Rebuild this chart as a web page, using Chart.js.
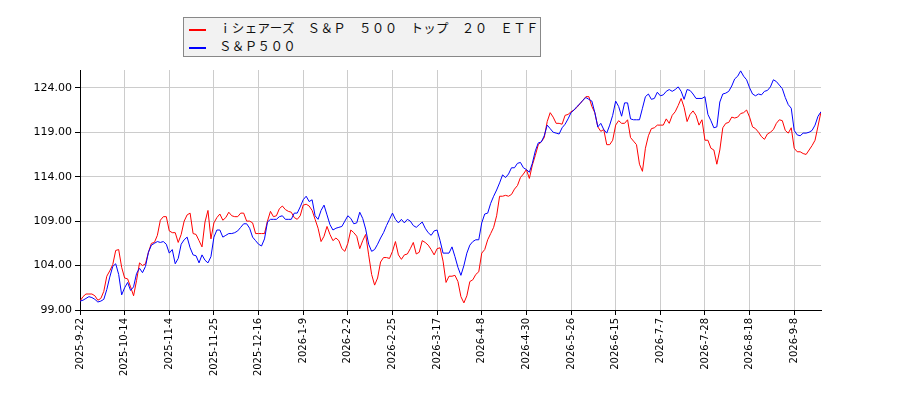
<!DOCTYPE html>
<html>
<head>
<meta charset="utf-8">
<script src="https://cdn.jsdelivr.net/npm/chart.js@4/dist/chart.umd.min.js"></script>
<style>
  body { margin: 0; background: #fff; }
  #wrap { position: relative; width: 900px; height: 400px; }
  #legend {
    position: absolute; left: 183px; top: 17px; width: 356px; height: 38px;
    background: #f2f2f2; border: 1px solid #888;
    font-family: "Noto Sans CJK JP", sans-serif; font-size: 12.5px; letter-spacing: 0.35px; color: #111;
  }
  .row { position: absolute; left: 5px; height: 18px; line-height: 18px; white-space: nowrap; }
  .swatch { display: inline-block; width: 17px; height: 2px; vertical-align: middle; margin-right: 13px; }
</style>
</head>
<body>
<div id="wrap">
  <canvas id="chart" width="900" height="400"></canvas>
  <div id="legend">
    <div class="row" style="top:1px"><span class="swatch" style="background:#ff0000"></span>ｉシェアーズ　Ｓ＆Ｐ　５００　トップ　２０　ＥＴＦ</div>
    <div class="row" style="top:19px"><span class="swatch" style="background:#0000ff"></span>Ｓ＆Ｐ５００</div>
  </div>
</div>
<script>
// tick labels, one every 15 trading days
const xTickPos = [0, 15, 30, 45, 60, 75, 90, 105, 120, 135, 150, 165, 180, 195, 210, 225, 240];
const xTickLabels = ['2025-9-22', '2025-10-14', '2025-11-4', '2025-11-25', '2025-12-16', '2026-1-9',
  '2026-2-2', '2026-2-25', '2026-3-17', '2026-4-8', '2026-4-30', '2026-5-26', '2026-6-15',
  '2026-7-7', '2026-7-28', '2026-8-18', '2026-9-8'];
const yTicks = [99, 104, 109, 114, 119, 124];

// iシェアーズ S&P500 トップ20 ETF (indexed, start = 100)
const etfVals = [
  100.0, 100.5, 100.8, 100.8, 100.8, 100.6, 100.1, 100.3, 101.1, 102.8,
  103.4, 104.1, 105.7, 105.8, 103.8, 102.6, 102.5, 101.6, 100.6, 102.3,
  104.3, 104.0, 104.2, 105.5, 106.5, 106.6, 107.4, 109.1, 109.5, 109.5,
  107.9, 107.7, 107.7, 106.6, 107.5, 109.0, 109.7, 109.9, 107.6, 107.5,
  106.8, 106.1, 108.9, 110.2, 107.0, 108.8, 109.4, 109.8, 109.1, 109.4,
  110.0, 109.6, 109.5, 109.5, 109.9, 109.9, 109.0, 109.0, 108.8, 107.6,
  107.6, 107.6, 107.6, 109.0, 110.1, 109.5, 109.6, 110.4, 110.7, 110.3,
  110.1, 110.0, 109.4, 109.2, 109.6, 110.8, 110.9, 110.7, 110.2, 109.2,
  108.2, 106.7, 107.3, 108.4, 107.5, 106.8, 107.1, 106.8, 105.9, 105.6,
  106.5, 108.0, 107.7, 107.3, 105.9, 106.8, 107.5, 105.2, 103.0, 101.8,
  102.6, 104.4, 104.9, 104.9, 104.8, 105.6, 106.7, 105.2, 104.7, 105.2,
  105.3, 105.9, 106.6, 105.3, 105.5, 106.8, 106.6, 106.3, 105.8, 105.2,
  105.9, 106.0, 104.5, 102.1, 102.8, 102.8, 102.9, 102.2, 100.5, 99.8,
  100.6, 102.2, 102.4, 103.0, 103.3, 105.4, 105.8, 106.9, 107.6, 108.3,
  109.6, 111.8, 111.8, 111.9, 111.8, 112.0, 112.6, 113.0, 113.9, 114.3,
  114.8, 113.8, 115.3, 116.4, 117.6, 117.9, 118.4, 120.2, 121.2, 120.7,
  120.0, 120.0, 119.9, 120.9, 121.0, 121.3, 121.5, 121.8, 122.2, 122.6,
  123.0, 123.0, 121.9, 121.2, 119.6, 119.1, 119.3, 117.6, 117.6, 118.1,
  119.8, 120.3, 120.0, 120.0, 120.4, 118.4, 118.0, 117.6, 115.4, 114.6,
  117.2, 118.6, 119.4, 119.5, 119.8, 119.8, 119.8, 120.5, 120.0, 120.9,
  121.3, 122.0, 122.8, 121.8, 120.2, 121.0, 121.4, 120.9, 119.8, 120.4,
  118.1, 118.1, 117.2, 117.0, 115.4, 117.0, 119.5, 120.0, 120.1, 120.7,
  120.6, 120.7, 121.1, 121.2, 121.5, 120.7, 119.6, 119.4, 119.0, 118.5,
  118.2, 118.8, 119.0, 119.3, 120.0, 120.4, 120.3, 119.2, 118.9, 119.5,
  117.2, 116.8, 116.8, 116.6, 116.5, 117.0, 117.5, 118.1, 119.7, 121.3
];

// S&P500 (indexed, start = 100)
const spxVals = [
  100.0, 100.1, 100.3, 100.5, 100.4, 100.2, 99.9, 100.0, 100.2, 101.3,
  102.7, 103.9, 104.2, 103.0, 100.7, 101.5, 102.1, 101.2, 101.6, 103.1,
  103.7, 103.2, 103.9, 105.5, 106.3, 106.5, 106.7, 106.6, 106.7, 106.4,
  105.4, 105.8, 104.2, 104.8, 106.4, 106.9, 107.2, 106.0, 105.2, 105.1,
  104.3, 105.2, 104.6, 104.3, 105.0, 107.2, 108.0, 108.0, 107.2, 107.4,
  107.6, 107.6, 107.7, 107.9, 108.3, 108.7, 108.7, 108.2, 107.2, 106.8,
  106.4, 106.2, 107.0, 108.9, 109.2, 109.2, 109.2, 109.5, 109.6, 109.2,
  109.2, 109.2, 109.9, 109.9, 110.6, 111.4, 111.8, 111.2, 111.4, 109.6,
  109.2, 110.2, 110.8, 109.7, 108.6, 108.0, 108.2, 108.3, 108.4, 109.0,
  109.6, 109.3, 108.7, 108.8, 110.0, 109.3, 108.1, 106.4, 105.6, 105.8,
  106.4, 107.1, 107.7, 108.5, 109.2, 109.9, 109.2, 108.8, 109.2, 108.8,
  109.2, 109.0, 108.5, 108.3, 108.6, 108.9, 108.2, 107.7, 107.4, 107.9,
  108.0, 106.8, 105.4, 105.4, 105.4, 106.1, 105.0, 103.8, 102.9, 104.0,
  105.4, 106.3, 106.7, 106.9, 106.9, 108.8, 109.8, 109.9, 111.0, 111.8,
  112.5, 113.3, 114.2, 113.9, 114.3, 115.0, 115.0, 115.5, 115.6, 115.0,
  114.8, 114.5, 115.5, 116.9, 117.8, 117.9, 118.6, 119.8, 119.4, 119.0,
  118.9, 118.8, 119.5, 119.9, 120.5, 121.2, 121.5, 121.9, 122.2, 122.6,
  122.9, 122.7, 122.5, 121.2, 119.6, 120.0, 119.3, 118.9, 119.8, 120.9,
  122.5, 121.9, 120.8, 122.3, 122.3, 120.5, 120.4, 120.4, 120.4, 121.7,
  123.0, 123.3, 122.7, 122.8, 123.5, 123.1, 123.2, 123.6, 123.8, 123.6,
  123.8, 124.1, 123.6, 122.7, 123.8, 123.7, 123.3, 122.8, 122.8, 122.8,
  123.0, 121.0, 120.3, 119.5, 119.6, 122.4, 123.3, 123.4, 123.6, 124.2,
  125.0, 125.3, 125.9, 125.3, 124.9, 124.0, 123.3, 123.1, 123.3, 123.2,
  123.6, 123.7, 124.1, 124.9, 124.7, 124.3, 123.9, 122.9, 122.1, 121.7,
  119.2, 118.7, 118.6, 118.9, 118.9, 119.0, 119.2, 119.8, 120.8, 121.3
];

const toPoints = vals => vals.map((v, i) => ({ x: i, y: v }));
const tickFont = { family: 'DejaVu Sans', size: 10 };

new Chart(document.getElementById('chart').getContext('2d'), {
  type: 'line',
  data: {
    datasets: [
      { label: 'ｉシェアーズ　Ｓ＆Ｐ　５００　トップ　２０　ＥＴＦ', data: toPoints(etfVals),
        borderColor: '#ff0000', borderWidth: 1, pointRadius: 0, tension: 0, order: 1 },
      { label: 'Ｓ＆Ｐ５００', data: toPoints(spxVals),
        borderColor: '#0000ff', borderWidth: 1, pointRadius: 0, tension: 0, order: 0 }
    ]
  },
  options: {
    responsive: false,
    animation: false,
    layout: { padding: { top: 70, right: 79, left: 0, bottom: 0 } },
    plugins: { legend: { display: false }, tooltip: { enabled: false } },
    scales: {
      x: {
        type: 'linear',
        min: 0,
        max: etfVals.length - 1,
        afterBuildTicks: axis => { axis.ticks = xTickPos.map(v => ({ value: v })); },
        afterFit: scale => { scale.height = 90; },
        grid: { color: '#cccccc', tickColor: '#000', tickLength: 5 },
        border: { color: '#000' },
        ticks: {
          autoSkip: false, minRotation: 90, maxRotation: 90, padding: 3,
          color: '#000', font: tickFont,
          callback: (v, k) => xTickLabels[k]
        }
      },
      y: {
        min: 99,
        max: 126,
        afterBuildTicks: axis => { axis.ticks = yTicks.map(v => ({ value: v })); },
        afterFit: scale => { scale.width = 80; },
        grid: { color: '#cccccc', tickColor: '#000', tickLength: 5 },
        border: { color: '#000' },
        ticks: {
          padding: 3, color: '#000', font: { family: 'DejaVu Sans', size: 11 },
          callback: v => v.toFixed(2)
        }
      }
    }
  }
});
</script>
</body>
</html>
